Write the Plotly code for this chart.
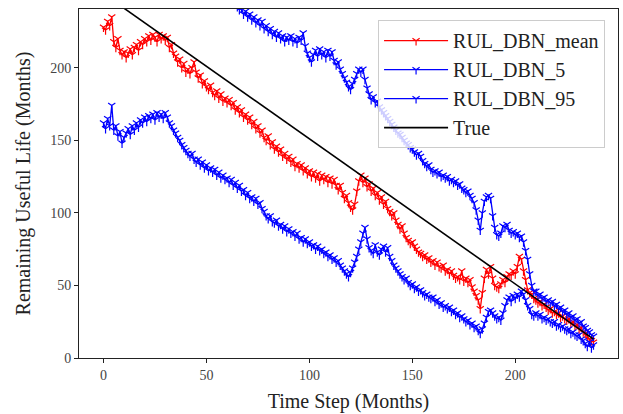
import plotly.graph_objects as go

t = list(range(239))

rul_mean = [
    228, 226, 232, 229, 235, 218, 214, 220, 212, 209,
    211, 207, 210, 213, 209, 214, 216, 212, 218, 216,
    220, 218, 222, 219, 223, 221, 218, 223, 220, 222,
    219, 221, 214, 216, 210, 208, 204, 206, 200, 203,
    197, 199, 196, 200, 204, 197, 193, 195, 189, 191,
    187, 185, 188, 183, 181, 184, 179, 182, 177, 179,
    176, 178, 174, 176, 171, 173, 169, 171, 166, 168,
    164, 166, 161, 163, 158, 160, 155, 157, 152, 150,
    153, 147, 149, 144, 146, 142, 144, 139, 141, 137,
    139, 135, 137, 132, 134, 131, 133, 129, 131, 127,
    129, 125, 128, 124, 127, 122, 126, 123, 125, 121,
    124, 120, 123, 119, 116, 119, 114, 110, 112, 107,
    104, 102, 106, 115, 122, 126, 121, 124, 118, 120,
    115, 117, 112, 114, 109, 111, 106, 108, 103, 101,
    98, 100, 95, 92, 89, 91, 86, 83, 81, 79,
    80, 77, 75, 73, 72, 70, 71, 68, 69, 66,
    67, 64, 66, 63, 62, 64, 60, 61, 58, 60,
    57, 55, 56, 54, 60, 53, 55, 52, 54, 49,
    46, 43, 40, 34, 45, 55, 61, 58, 63, 55,
    50, 49, 48, 51, 54, 52, 56, 58, 57, 60,
    58, 63, 70, 68, 60, 54, 47, 45, 44, 41,
    40, 38, 39, 36, 37, 35, 33, 34, 31, 32,
    30, 31, 28, 29, 27, 26, 27, 24, 25, 22,
    23, 20, 21, 18, 17, 15, 13, 12, 11,
]

rul_5 = [
    162, 158, 165, 160, 174, 157, 160, 153, 156, 148,
    152, 155, 158, 154, 160, 157, 162, 159, 164, 162,
    166, 163, 167, 165, 168, 164, 169, 166, 168, 165,
    169, 166, 162, 160, 157, 155, 152, 150, 147, 145,
    143, 141, 139, 141, 137, 135, 137, 133, 135, 131,
    133, 129, 131, 128, 130, 126, 128, 124, 126, 123,
    124, 121, 123, 119, 121, 117, 119, 115, 116, 112,
    114, 110, 111, 108, 110, 106, 107, 103, 101, 98,
    96, 98, 94, 93, 95, 91, 92, 89, 91, 87,
    89, 86, 87, 84, 86, 82, 83, 80, 82, 79,
    80, 77, 78, 75, 77, 74, 75, 72, 73, 70,
    71, 68, 69, 66, 67, 64, 62, 60, 58, 56,
    59, 62, 66, 70, 75, 80, 86, 90, 82, 76,
    74, 72, 78, 73, 71, 75, 77, 73, 76, 70,
    67, 64, 62, 60, 58, 56, 54, 55, 52, 50,
    51, 48, 49, 46, 47, 45, 43, 44, 42, 41,
    42, 39, 40, 37, 38, 35, 36, 34, 35, 32,
    33, 30, 31, 28, 29, 27, 25, 26, 23, 24,
    21, 22, 19, 17, 20, 24, 28, 32, 33, 31,
    29, 27, 28, 26, 31, 36, 40, 42, 39, 43,
    41, 44, 42, 46, 44, 40, 36, 34, 30, 29,
    31, 29, 30, 27, 28, 26, 27, 25, 24, 25,
    22, 23, 21, 22, 20, 19, 20, 17, 18, 16,
    15, 16, 13, 12, 10, 8, 11, 7, 9,
]

rul_95 = [
    288, 284, 291, 286, 300, 283, 286, 279, 282, 274,
    278, 281, 284, 280, 286, 283, 288, 285, 290, 288,
    292, 289, 293, 291, 294, 290, 295, 292, 294, 291,
    295, 292, 288, 286, 283, 281, 278, 276, 273, 271,
    269, 267, 265, 267, 263, 261, 263, 259, 261, 257,
    259, 255, 257, 254, 256, 252, 254, 250, 252, 249,
    250, 247, 249, 245, 247, 242, 240, 241, 237, 239,
    235, 237, 233, 235, 231, 233, 229, 232, 227, 229,
    225, 227, 223, 225, 221, 224, 220, 222, 218, 221,
    219, 222, 218, 220, 217, 221, 219, 224, 215, 210,
    207, 204, 209, 212, 208, 213, 209, 211, 207, 212,
    208, 211, 205, 202, 204, 199, 196, 193, 190, 187,
    185, 189, 192, 196, 199, 197, 199, 192, 186, 182,
    178, 180, 176, 177, 173, 171, 169, 167, 165, 163,
    161, 159, 157, 155, 154, 152, 150, 148, 147, 145,
    144, 142, 140, 141, 139, 136, 134, 132, 133, 130,
    128, 129, 127, 128, 125, 126, 124, 125, 122, 123,
    121, 122, 119, 120, 117, 116, 114, 115, 112, 110,
    107, 102, 95, 88, 100, 108, 111, 112, 110, 98,
    90, 85, 84, 86, 91, 90, 92, 88, 86, 87,
    85, 86, 83, 84, 80, 74, 68, 58, 50, 46,
    46, 43, 44, 41, 42, 39, 40, 38, 39, 36,
    37, 34, 35, 32, 33, 30, 31, 28, 29, 26,
    27, 24, 25, 22, 21, 19, 18, 16, 15,
]

true_t = [0, 238]
true_rul = [251, 13]

x_ticks = [0, 50, 100, 150, 200, 250]
y_ticks = [0, 50, 100, 150, 200]

FONT = "Liberation Serif"

fig = go.Figure()
marker_common = dict(symbol="y-down-open", size=6)
series = [
    ("RUL_DBN_mean", rul_mean, "red"),
    ("RUL_DBN_5", rul_5, "blue"),
    ("RUL_DBN_95", rul_95, "blue"),
]
for name, vals, col in series:
    fig.add_trace(go.Scatter(x=t, y=vals, mode="lines+markers", name=name,
                             line=dict(color=col, width=1.3),
                             marker=dict(color=col, line=dict(color=col, width=1.2), **marker_common)))
fig.add_trace(go.Scatter(x=true_t, y=true_rul, mode="lines", name="True",
                         line=dict(color="black", width=1.6)))

axis_common = dict(showgrid=False, zeroline=False, showline=True, linecolor="#222",
                   linewidth=1, mirror=True, ticks="outside", ticklen=4, tickcolor="#222",
                   tickfont=dict(family=FONT, size=14, color="#444"))

fig.update_layout(
    width=623, height=414,
    margin=dict(l=79, r=5, t=9, b=56),
    paper_bgcolor="white", plot_bgcolor="white",
    font=dict(family=FONT, color="#222"),
    xaxis=dict(range=[-11.9, 249.9], tickvals=x_ticks,
               title=dict(text="Time Step (Months)", font=dict(family=FONT, size=20, color="#222"), standoff=12),
               **axis_common),
    yaxis=dict(range=[0, 240.5], tickvals=y_ticks,
               title=dict(text="Remaining Useful Life (Months)", font=dict(family=FONT, size=20, color="#222"), standoff=14),
               **axis_common),
    legend=dict(x=0.976, y=0.968, xanchor="right", yanchor="top",
                bgcolor="rgba(255,255,255,0.8)", bordercolor="#ccc", borderwidth=1,
                itemwidth=64,
                font=dict(family=FONT, size=20, color="#222")),
    showlegend=True,
)

fig.write_html("out.html")
